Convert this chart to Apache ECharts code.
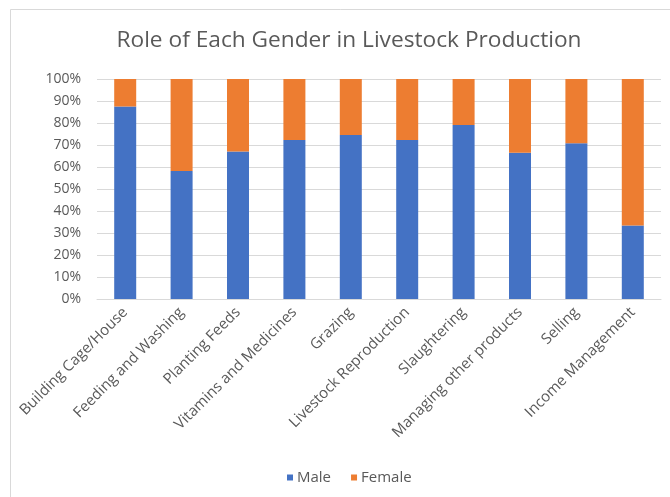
<!DOCTYPE html>
<html><head><meta charset="utf-8">
<script src="https://cdn.jsdelivr.net/npm/echarts@6/dist/echarts.min.js"></script>
<style>html,body{margin:0;padding:0;background:#fff}#c{width:670px;height:497px}</style>
</head><body><div id="c"></div>
<script>
const categories = ["Building Cage/House","Feeding and Washing","Planting Feeds","Vitamins and Medicines","Grazing","Livestock Reproduction","Slaughtering","Managing other products","Selling","Income Management"];
const male = [87.5, 58.2, 67.0, 72.3, 74.6, 72.3, 79.1, 66.5, 70.8, 33.4];
const female = male.map(v => +(100 - v).toFixed(1));
const yTicks = [0,10,20,30,40,50,60,70,80,90,100];

const chart = echarts.init(document.getElementById('c'), null, {renderer:'canvas'});
chart.setOption({
  animation:false,
  backgroundColor:'#fff',
  graphic:[{type:'rect', shape:{x:10.5,y:9.5,width:700,height:520}, style:{fill:'none', stroke:'#d9d9d9', lineWidth:1}, silent:true}],
  title:{text:'Role of Each Gender in Livestock Production', left:344, textAlign:'center', top:24, textStyle:{fontFamily:'Open Sans', fontSize:22.7, fontWeight:'normal', color:'#595959'}},
  legend:{top:465, left:282, itemWidth:6, itemHeight:6, itemGap:20, icon:'rect',
    textStyle:{fontFamily:'Open Sans', fontSize:15, color:'#595959', padding:[0,0,0,-1]}, data:['Male','Female']},
  grid:{left:97, right:9, top:79, bottom:198},
  xAxis:{type:'category', data:categories,
    axisLine:{lineStyle:{color:'#d9d9d9'}}, axisTick:{show:false},
    axisLabel:{rotate:45, interval:0, margin:11, fontFamily:'Open Sans', fontSize:15, color:'#595959'}},
  yAxis:{type:'value', min:0, max:100, interval:10,
    axisLabel:{formatter:'{value}%', fontFamily:'Open Sans', fontSize:14, color:'#595959', margin:16},
    splitLine:{lineStyle:{color:'#d9d9d9'}}, axisLine:{show:false}, axisTick:{show:false}},
  series:[
    {name:'Male', type:'bar', stack:'a', data:male, barWidth:22, itemStyle:{color:'#4472C4'}},
    {name:'Female', type:'bar', stack:'a', data:female, barWidth:22, itemStyle:{color:'#ED7D31'}}
  ]
});
</script></body></html>
